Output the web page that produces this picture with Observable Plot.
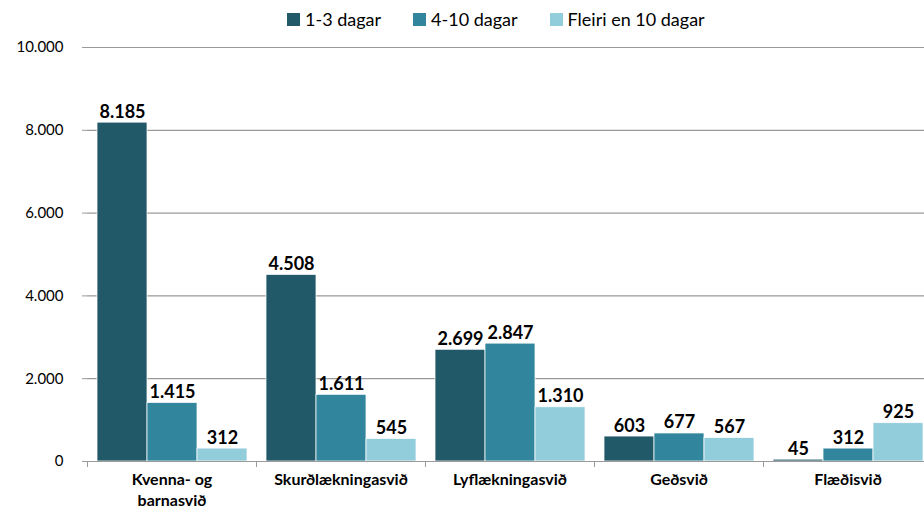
<!DOCTYPE html>
<html><head><meta charset="utf-8">
<script src="https://cdn.jsdelivr.net/npm/d3@7"></script>
<script src="https://cdn.jsdelivr.net/npm/@observablehq/plot@0.6"></script>
<style>
html,body{margin:0;padding:0;background:#fff;overflow:hidden;width:924px;height:515px}
body{font-family:Lato,"Open Sans",sans-serif}
#legend{height:38px;display:flex;align-items:center;padding-left:287px;font-size:18px;color:#000}
.item{display:flex;align-items:center;margin-right:32px}
.sw{width:13px;height:13px;margin-right:5px;display:inline-block}
#chart svg{max-width:none !important}
</style></head><body>
<div id="legend"></div><div id="chart"></div>
<script>
const categories = ["Kvenna- og barnasvið","Skurðlækningasvið","Lyflækningasvið","Geðsvið","Flæðisvið"];
const tickLabels = ["Kvenna- og\nbarnasvið","Skurðlækningasvið","Lyflækningasvið","Geðsvið","Flæðisvið"];
const series = ["1-3 dagar","4-10 dagar","Fleiri en 10 dagar"];
const v1to3 = [8185,4508,2699,603,45];
const v4to10 = [1415,1611,2847,677,312];
const vOver10 = [312,545,1310,567,925];
const yTicks = [0,2000,4000,6000,8000,10000];
const colors = ["#215968","#31859C","#92CDDC"];

const seriesValues = [v1to3, v4to10, vOver10];
const data = categories.flatMap((c,i)=>series.map((s,j)=>({cat:c, ser:s, value:seriesValues[j][i]})));
const fmt = d3.formatLocale({decimal:",", thousands:".", grouping:[3], currency:["",""]}).format(",d");

const legend = document.getElementById("legend");
series.forEach((s,j)=>{
  const it = document.createElement("div"); it.className="item";
  const sw = document.createElement("span"); sw.className="sw"; sw.style.background=colors[j];
  const t = document.createElement("span"); t.textContent=s;
  it.appendChild(sw); it.appendChild(t); legend.appendChild(it);
});

const W = 932, ML = 87, MR = 0;
const step = (W-ML-MR)/categories.length;
const grey = "#9a9a9a";

const chart = Plot.plot({
  width: W, height: 477, marginTop: 9, marginBottom: 54, marginLeft: ML, marginRight: MR,
  style: {fontFamily: "Lato, 'Open Sans', sans-serif", background: "white", maxWidth: "none", color: "#000"},
  fx: {domain: categories, padding: 0, label: null},
  x: {domain: series, paddingInner: 0, paddingOuter: 0.19, axis: null},
  y: {domain: [0,10000], label: null},
  color: {domain: series, range: colors},
  marks: [
    Plot.ruleY(yTicks.slice(1), {stroke: grey, strokeWidth: 1.2}),
    Plot.barY(data, {fx:"cat", x:"ser", y:"value", fill:"ser", stroke:"white", strokeWidth:0.75}),
    Plot.text(data, {fx:"cat", x:"ser", y:"value", text: d=>fmt(d.value), lineAnchor:"bottom", dy:-5, fontWeight:"bold", fontSize:18, fill:"#000"}),
    Plot.ruleY([0], {stroke: grey, strokeWidth: 1.2}),
    Plot.axisY({ticks: yTicks, tickFormat: fmt, tickSize: 5, tickPadding: 19, fontSize: 15, stroke: grey, label: null}),
    Plot.axisFx({anchor:"bottom", tickSize:0, tickPadding:9, tickFormat: d=>tickLabels[categories.indexOf(d)], fontWeight:"bold", fontSize:16, lineHeight:1.3, label:null}),
    Plot.axisFx({anchor:"bottom", tickSize:6, tickFormat: ()=>"", dx: -step/2, stroke: grey, label:null}),
    Plot.ruleX(categories.slice(0,1), {fx: d=>d, y1:0, y2:10000, dx: -step/2, stroke: grey, strokeWidth: 1.2})
  ]
});
document.getElementById("chart").appendChild(chart);
</script>
</body></html>
